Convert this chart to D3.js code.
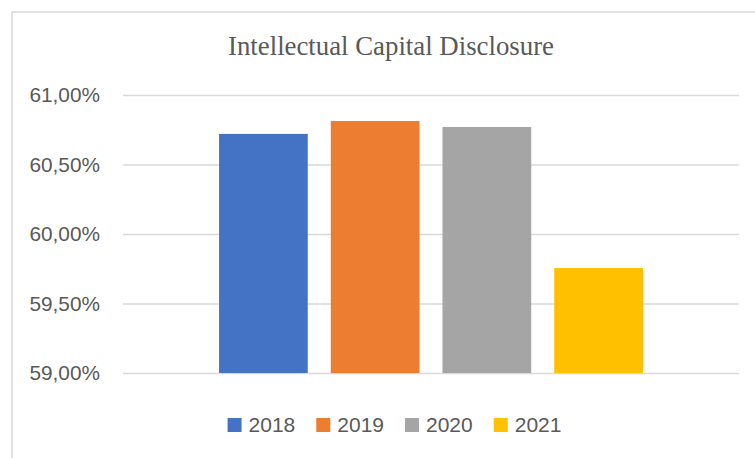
<!DOCTYPE html>
<html>
<head>
<meta charset="utf-8">
<script src="https://cdn.jsdelivr.net/npm/d3@7"></script>
<style>
  html, body { margin: 0; padding: 0; background: #fff; }
  svg { display: block; }
</style>
</head>
<body>
<svg id="chart" width="755" height="458"></svg>
<script>
const title = "Intellectual Capital Disclosure";
const seriesNames = ["2018", "2019", "2020", "2021"];
const seriesValues = [60.72, 60.813, 60.77, 59.755];
const seriesColors = ["#4472C4", "#ED7D31", "#A5A5A5", "#FFC000"];
const yTicks = [59.0, 59.5, 60.0, 60.5, 61.0];
const yDomain = [59.0, 61.0];

const W = 755, H = 458;
const frame = { x: 12, y: 12, w: 760, h: 460 };
const plot = { left: 123, right: 739, top: 95, bottom: 373 };

const svg = d3.select("#chart");
svg.append("rect").attr("width", W).attr("height", H).attr("fill", "#fff");

// Chart area frame (extends past the viewport on right and bottom)
svg.append("rect")
  .attr("x", frame.x).attr("y", frame.y)
  .attr("width", frame.w).attr("height", frame.h)
  .attr("fill", "#fff").attr("stroke", "#d9d9d9").attr("stroke-width", 1.5);

const titleX = 391;
const legendX = 394.5;

// Title
svg.append("text")
  .attr("x", titleX).attr("y", 55)
  .attr("text-anchor", "middle")
  .attr("font-family", "'Liberation Serif', 'Times New Roman', serif")
  .attr("font-size", 26.8)
  .attr("fill", "#595959")
  .text(title);

const y = d3.scaleLinear().domain(yDomain).range([plot.bottom, plot.top]);
const x = d3.scaleBand().domain(seriesNames)
  .range([plot.left, plot.right])
  .paddingInner(0.206).paddingOuter(0.86);

const fmt = v => d3.format(".2f")(v).replace(".", ",") + "%";

// Gridlines and y labels via axis
const yAxis = d3.axisLeft(y).tickValues(yTicks).tickFormat(fmt)
  .tickSize(-(plot.right - plot.left)).tickPadding(23);
const gy = svg.append("g").attr("transform", `translate(${plot.left},0)`).call(yAxis);
gy.select(".domain").remove();
gy.selectAll(".tick line").attr("stroke", "#d9d9d9").attr("stroke-width", 1.5);
gy.selectAll(".tick text")
  .attr("font-family", "'Liberation Sans', Arial, sans-serif")
  .attr("font-size", 20.8)
  .attr("fill", "#595959");

// Bars
svg.append("g").selectAll("rect")
  .data(seriesNames)
  .join("rect")
  .attr("x", d => x(d))
  .attr("width", x.bandwidth())
  .attr("y", (d, i) => y(seriesValues[i]))
  .attr("height", (d, i) => y(yDomain[0]) - y(seriesValues[i]))
  .attr("fill", (d, i) => seriesColors[i]);

// Legend
const lg = svg.append("g");
const items = lg.selectAll("g").data(seriesNames).join("g");
items.append("rect").attr("width", 14).attr("height", 14).attr("y", -14)
  .attr("fill", (d, i) => seriesColors[i]);
items.append("text").attr("x", 21).attr("y", 0)
  .attr("font-family", "'Liberation Sans', Arial, sans-serif")
  .attr("font-size", 21)
  .attr("fill", "#595959")
  .text(d => d);
const widths = [];
items.each(function() {
  const tw = d3.select(this).select("text").node().getComputedTextLength();
  widths.push(21 + tw);
});
const gap = 21;
const total = d3.sum(widths) + gap * (widths.length - 1);
let start = legendX - total / 2;
items.attr("transform", (d, i) => {
  const t = `translate(${start},432)`;
  start += widths[i] + gap;
  return t;
});
</script>
</body>
</html>
